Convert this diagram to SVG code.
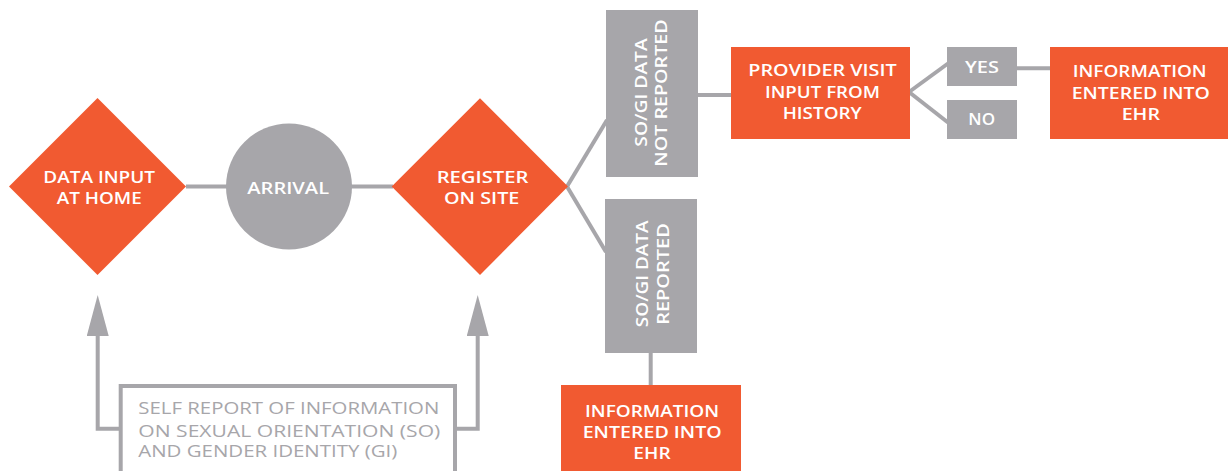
<svg xmlns="http://www.w3.org/2000/svg" width="1228" height="471" viewBox="0 0 1228 471">
<style>
.or{fill:#f15a31}
.gr{fill:#a7a6aa}
.c{fill:none;stroke:#a7a6aa;stroke-width:4}
.t{font-family:"Open Sans","Liberation Sans",Arial,sans-serif;font-size:17px;font-weight:600;fill:#ffffff;text-anchor:middle}
.g{font-family:"Open Sans","Liberation Sans",Arial,sans-serif;font-size:15.5px;font-weight:400;fill:#a7a6aa}
</style>
<defs>
<marker id="ah" viewBox="0 0 41 22" refX="0" refY="11" markerWidth="41" markerHeight="22" markerUnits="userSpaceOnUse" orient="auto">
<polygon points="0,0 41,11 0,22" fill="#a7a6aa"/>
</marker>
</defs>
<g id="connectors">
<line class="c" x1="186" y1="186.5" x2="227" y2="186.5"/>
<line class="c" x1="351" y1="186.5" x2="393" y2="186.5"/>
<line class="c" x1="567" y1="186.5" x2="607" y2="120"/>
<line class="c" x1="567" y1="186.5" x2="606" y2="252"/>
<line class="c" x1="697" y1="95" x2="732" y2="95"/>
<line class="c" x1="909" y1="92" x2="948" y2="63.5"/>
<line class="c" x1="909" y1="92" x2="948" y2="122.5"/>
<line class="c" x1="1016" y1="68.3" x2="1051" y2="68.3"/>
<line class="c" x1="650.7" y1="352" x2="650.7" y2="386"/>
<path class="c" d="M120.7,428.7 H97.7 V336" marker-end="url(#ah)"/>
<path class="c" d="M455,428.7 H477.7 V336" marker-end="url(#ah)"/>
</g>
<g id="data-input-at-home">
<polygon class="or" points="97.5,98 186,186.5 97.5,275 9,186.5"/>
<text class="t" x="99.2" y="183.3" textLength="111.7" lengthAdjust="spacingAndGlyphs">DATA INPUT</text>
<text class="t" x="99.2" y="204.3" textLength="85" lengthAdjust="spacingAndGlyphs">AT HOME</text>
</g>
<g id="arrival">
<circle class="gr" cx="289" cy="186.5" r="63"/>
<text class="t" x="288.2" y="194" textLength="81.7" lengthAdjust="spacingAndGlyphs">ARRIVAL</text>
</g>
<g id="register-on-site">
<polygon class="or" points="480,98.3 568,186.5 480,275 391.7,186.5"/>
<text class="t" x="482.5" y="182.7" textLength="91.7" lengthAdjust="spacingAndGlyphs">REGISTER</text>
<text class="t" x="481.7" y="204" textLength="75.3" lengthAdjust="spacingAndGlyphs">ON SITE</text>
</g>
<g id="sogi-not-reported">
<rect class="gr" x="606" y="10" width="92" height="167"/>
<text class="t" transform="translate(647,92.5) rotate(-90)" textLength="108.3" lengthAdjust="spacingAndGlyphs">SO/GI DATA</text>
<text class="t" transform="translate(667,93) rotate(-90)" textLength="147.3" lengthAdjust="spacingAndGlyphs">NOT REPORTED</text>
</g>
<g id="sogi-reported">
<rect class="gr" x="605" y="199" width="92" height="154"/>
<text class="t" transform="translate(648,273.8) rotate(-90)" textLength="106.7" lengthAdjust="spacingAndGlyphs">SO/GI DATA</text>
<text class="t" transform="translate(669,274) rotate(-90)" textLength="101.7" lengthAdjust="spacingAndGlyphs">REPORTED</text>
</g>
<g id="provider-visit">
<rect class="or" x="731" y="47" width="179" height="92"/>
<text class="t" x="822.5" y="75.7" textLength="148.3" lengthAdjust="spacingAndGlyphs">PROVIDER VISIT</text>
<text class="t" x="822.5" y="97.7" textLength="115" lengthAdjust="spacingAndGlyphs">INPUT FROM</text>
<text class="t" x="822.2" y="119.3" textLength="79" lengthAdjust="spacingAndGlyphs">HISTORY</text>
</g>
<g id="yes">
<rect class="gr" x="947" y="47" width="70" height="39"/>
<text class="t" x="982" y="73.3" textLength="34" lengthAdjust="spacingAndGlyphs">YES</text>
</g>
<g id="no">
<rect class="gr" x="947" y="100" width="70" height="39"/>
<text class="t" x="981.7" y="125" textLength="26.7" lengthAdjust="spacingAndGlyphs">NO</text>
</g>
<g id="info-ehr-right">
<rect class="or" x="1050" y="47" width="178" height="92"/>
<text class="t" x="1139.7" y="76.7" textLength="134" lengthAdjust="spacingAndGlyphs">INFORMATION</text>
<text class="t" x="1140.8" y="99" textLength="138.3" lengthAdjust="spacingAndGlyphs">ENTERED INTO</text>
<text class="t" x="1140.8" y="120" textLength="38.3" lengthAdjust="spacingAndGlyphs">EHR</text>
</g>
<g id="info-ehr-bottom">
<rect class="or" x="561" y="385" width="180" height="86"/>
<text class="t" x="652" y="416.7" textLength="134" lengthAdjust="spacingAndGlyphs">INFORMATION</text>
<text class="t" x="652.2" y="438.3" textLength="139" lengthAdjust="spacingAndGlyphs">ENTERED INTO</text>
<text class="t" x="652" y="459.3" textLength="37.3" lengthAdjust="spacingAndGlyphs">EHR</text>
</g>
<g id="self-report">
<rect x="120.7" y="386" width="334.3" height="100" fill="none" stroke="#a7a6aa" stroke-width="4"/>
<text class="g" x="138.3" y="414" textLength="301" lengthAdjust="spacingAndGlyphs">SELF REPORT OF INFORMATION</text>
<text class="g" x="138.3" y="436.5" textLength="302" lengthAdjust="spacingAndGlyphs">ON SEXUAL ORIENTATION (SO)</text>
<text class="g" x="138.3" y="457.3" textLength="259" lengthAdjust="spacingAndGlyphs">AND GENDER IDENTITY (GI)</text>
</g>
</svg>
